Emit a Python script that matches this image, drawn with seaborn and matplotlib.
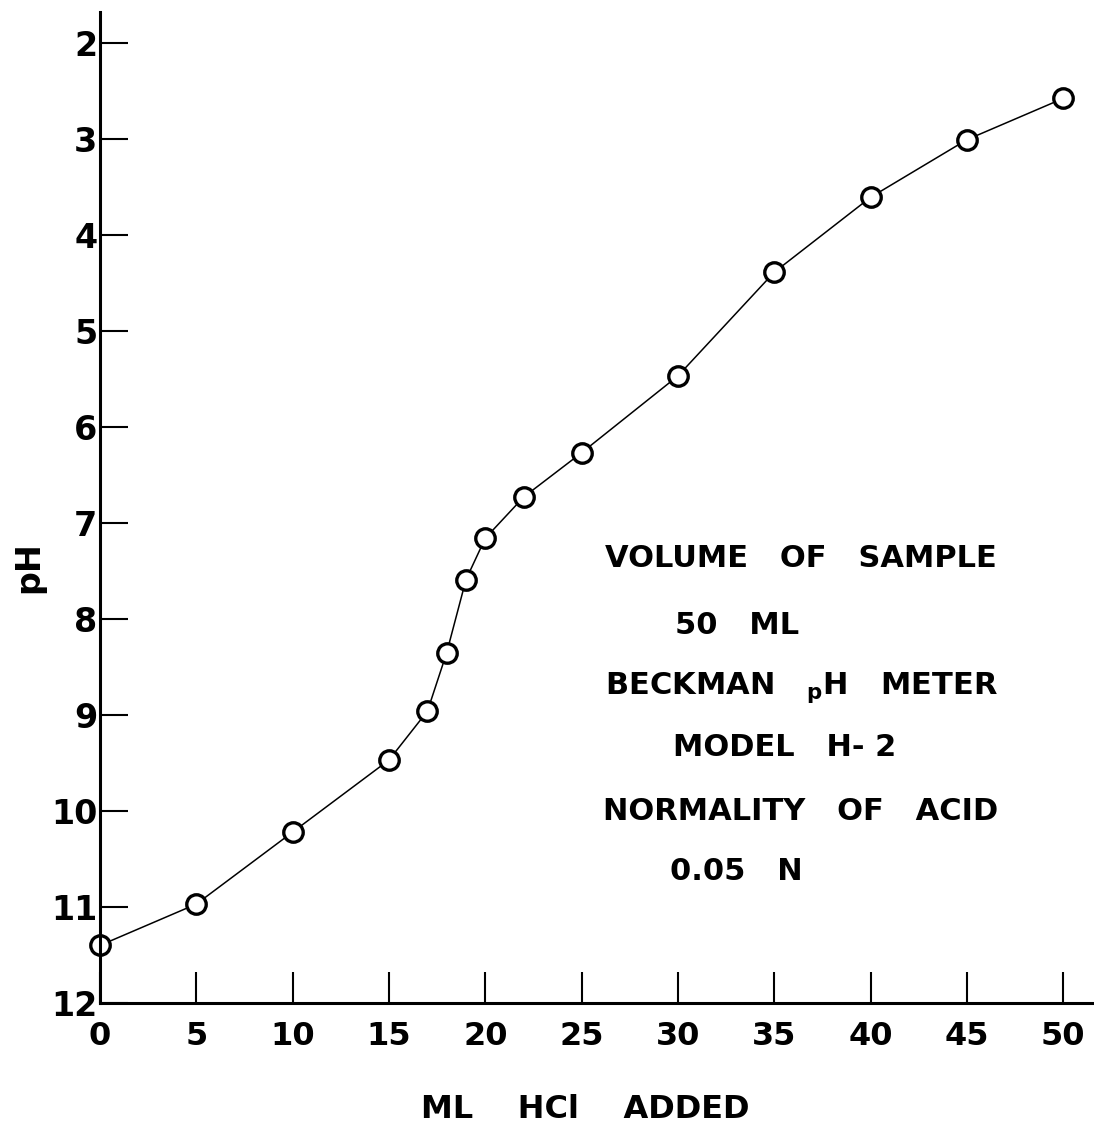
import numpy as np
import pandas as pd
import matplotlib
matplotlib.use("Agg")
import matplotlib.pyplot as plt
import seaborn as sns

sns.set_style("ticks")
plt.rcParams["font.family"] = ["DejaVu Sans"]
plt.rcParams["text.color"] = "black"
plt.rcParams["axes.labelcolor"] = "black"

# titration readings
ml_hcl = [0, 5, 10, 15, 17, 18, 19, 20, 22, 25, 30, 35, 40, 45, 50]
ph = [11.40, 10.97, 10.22, 9.47, 8.96, 8.35, 7.59, 7.16, 6.73, 6.27,
      5.47, 4.39, 3.61, 3.01, 2.58]
x_ticks = [0, 5, 10, 15, 20, 25, 30, 35, 40, 45, 50]
y_ticks = [2, 3, 4, 5, 6, 7, 8, 9, 10, 11, 12]

notes = [
    ("VOLUME   OF   SAMPLE", 605),
    ("50   ML", 675),
    (r"BECKMAN   $_\mathbf{p}$H   METER", 605),
    ("MODEL   H- 2", 673),
    ("NORMALITY   OF   ACID", 603),
    ("0.05   N", 670),
]
note_y = [558, 626, 688, 747, 812, 872]

df = pd.DataFrame({"ml": ml_hcl, "ph": ph})

W, H = 1094, 1128
fig = plt.figure(figsize=(W / 100, H / 100), dpi=100)
ax = fig.add_axes([100 / W, 1 - 1003 / H, 994 / W, (1003 - 12) / H])

sns.lineplot(data=df, x="ml", y="ph", ax=ax, color="black", linewidth=1.1,
             marker="o", markersize=14, markerfacecolor="white",
             markeredgecolor="black", markeredgewidth=2.4, sort=False,
             clip_on=False)

ax.set_xlim(0, 51.6)
ax.set_ylim(12, 1.68)
ax.set_xticks(x_ticks)
ax.set_yticks(y_ticks)
ax.set_xticklabels([str(v) for v in x_ticks])
ax.set_yticklabels([str(v) for v in y_ticks])

ax.tick_params(axis="y", direction="in", length=20, width=1.5, pad=2,
               labelsize=24, colors="black")
ax.tick_params(axis="x", direction="in", length=22, width=1.5, pad=13,
               labelsize=23, colors="black")
for lab in ax.get_xticklabels() + ax.get_yticklabels():
    lab.set_fontweight("bold")

for side in ["top", "right"]:
    ax.spines[side].set_visible(False)
for side in ["left", "bottom"]:
    ax.spines[side].set_linewidth(2.2)
    ax.spines[side].set_color("black")

ax.set_xlabel("")
ax.set_ylabel("")
fig.text(585 / W, 1 - 1110 / H, "ML    HCl    ADDED", ha="center", va="center",
         fontsize=23, fontweight="bold")
fig.text(29 / W, 1 - 567 / H, "pH", ha="center", va="center", rotation=90,
         fontsize=24, fontweight="bold")

for (txt, px), py in zip(notes, note_y):
    fig.text(px / W, 1 - py / H, txt, ha="left", va="center", fontsize=22,
             fontweight="bold")

fig.savefig("out.png", dpi=100, facecolor="white")
